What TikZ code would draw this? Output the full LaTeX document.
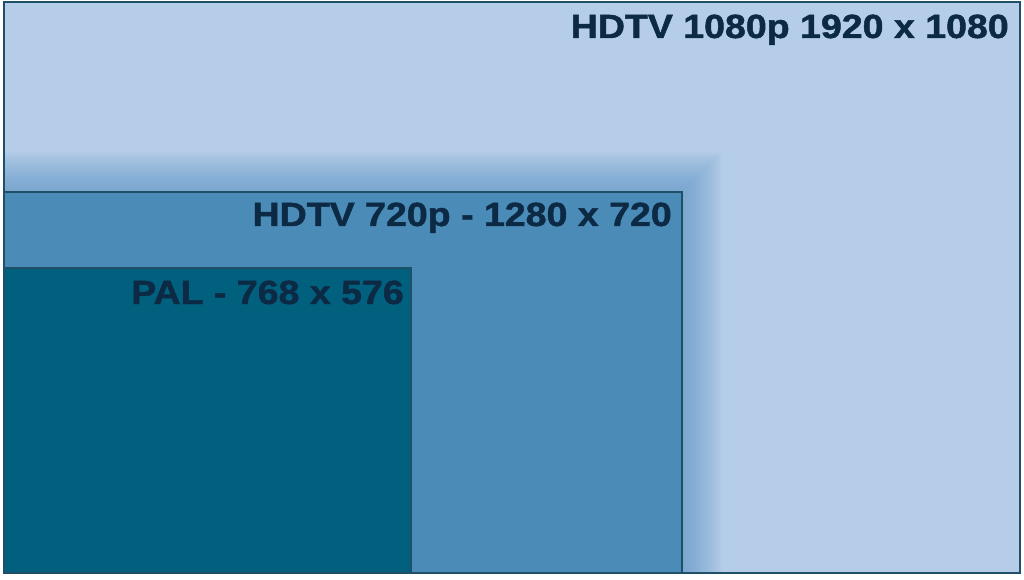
\documentclass[tikz,border=0pt]{standalone}
\usepackage{fontspec}
\setmainfont{Liberation Sans}
\newfontfamily\heavy[FakeBold=1.3,UprightFont={* Bold}]{Liberation Sans}
\definecolor{outerfill}{HTML}{B5CDE8}
\definecolor{midfill}{HTML}{4A8BB7}
\definecolor{innerfill}{HTML}{02607F}
\definecolor{edgecol}{HTML}{1F5068}
\definecolor{txtcol}{HTML}{0D2A45}
\definecolor{glowc}{HTML}{5A96C8}
\tikzset{
  screen/.style={draw=edgecol, line width=1.2pt},
  glowlayer/.style={fill=glowc, opacity=0.045},
  lbl/.style={anchor=base east, text=txtcol, font=\fontsize{33.5}{36}\heavy, inner sep=0pt, xscale=1.12}
}
\begin{document}
\begin{tikzpicture}[x=1pt,y=1pt]
\useasboundingbox (0,0) rectangle (1024,579);
\fill[white] (0,0) rectangle (1024,579);
\draw[screen, fill=outerfill] (4,6) rectangle (1020,577);
\begin{scope}
\clip (4,6) rectangle (1020,577);
\foreach \i in {1,...,20} \fill[glowlayer] (4,6) rectangle (682+2*\i,387+2*\i);
\draw[screen, fill=midfill] (4,6) rectangle (682,387);
\foreach \i in {1,...,14} \fill[glowlayer] (4,6) rectangle (411+2*\i,311+2*\i);
\draw[screen, fill=innerfill] (4,6) rectangle (411,311);
\end{scope}
\draw[screen] (4,6) rectangle (1020,577);
\node[lbl] (t1) at (1009,541) {HDTV 1080p 1920 x 1080};
\node[lbl] (t2) at (672,353) {HDTV 720p - 1280 x 720};
\node[lbl] (t3) at (404,275) {PAL - 768 x 576};
\end{tikzpicture}
\end{document}
